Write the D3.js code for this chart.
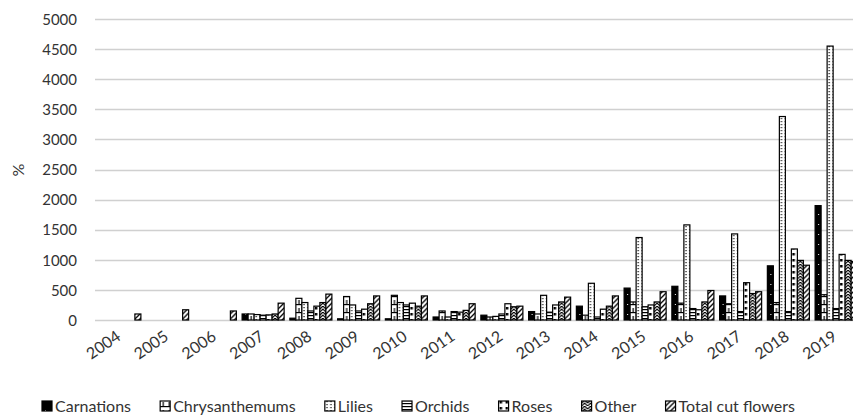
<!DOCTYPE html>
<html>
<head>
<meta charset="utf-8">
<script src="https://cdn.jsdelivr.net/npm/d3@7"></script>
<style>
  html, body { margin: 0; padding: 0; background: #fff; }
  svg { display: block; }
  text { font-family: Lato, "Open Sans", sans-serif; fill: #333; }
</style>
</head>
<body>
<svg id="chart" width="853" height="415"></svg>
<script>
const years = ["2004","2005","2006","2007","2008","2009","2010","2011","2012","2013","2014","2015","2016","2017","2018","2019"];
const seriesNames = ["Carnations","Chrysanthemums","Lilies","Orchids","Roses","Other","Total cut flowers"];
const carnations     = [0, 0, 0, 100, 30, 20, 20, 50, 80, 140, 230, 530, 560, 400, 900, 1900];
const chrysanthemums = [0, 0, 0, 100, 360, 390, 410, 150, 50, 100, 80, 300, 280, 270, 290, 420];
const lilies         = [0, 0, 0, 90, 290, 250, 290, 50, 60, 410, 610, 1370, 1580, 1430, 3380, 4550];
const orchids        = [0, 0, 0, 80, 150, 150, 250, 140, 100, 130, 50, 220, 190, 140, 140, 190];
const roses          = [0, 0, 0, 85, 230, 180, 280, 130, 270, 250, 180, 250, 170, 620, 1180, 1090];
const other          = [0, 0, 0, 100, 290, 270, 230, 160, 220, 300, 230, 300, 300, 440, 990, 990];
const totalCut       = [100, 170, 150, 280, 430, 400, 400, 270, 230, 380, 400, 470, 490, 470, 910, 970];
const yTicks = [0, 500, 1000, 1500, 2000, 2500, 3000, 3500, 4000, 4500, 5000];

const seriesValues = [carnations, chrysanthemums, lilies, orchids, roses, other, totalCut];
const patternIds = ["pCarn","pChrys","pLil","pOrch","pRose","pOther","pTotal"];

const svg = d3.select("#chart");

// patterns
const defs = svg.append("defs");
function pat(id, w, h, draw) {
  const p = defs.append("pattern").attr("id", id).attr("patternUnits", "userSpaceOnUse")
    .attr("width", w).attr("height", h);
  draw(p);
}
pat("pCarn", 8, 10, p => {
  p.append("rect").attr("width", 8).attr("height", 10).attr("fill", "#000");
  p.append("rect").attr("x", 3).attr("y", 4).attr("width", 1).attr("height", 1).attr("fill", "#fff");
});
pat("pChrys", 6, 8, p => {
  p.append("rect").attr("width", 6).attr("height", 8).attr("fill", "#fff");
  p.append("rect").attr("x", 0).attr("y", 0).attr("width", 6).attr("height", 1.2).attr("fill", "#000");
  p.append("rect").attr("x", 2.5).attr("y", 4).attr("width", 1.2).attr("height", 4).attr("fill", "#000");
});
pat("pLil", 4, 3, p => {
  p.append("rect").attr("width", 4).attr("height", 3).attr("fill", "#fff");
  p.append("rect").attr("x", 1.5).attr("y", 1).attr("width", 1.2).attr("height", 1.2).attr("fill", "#000");
});
pat("pOrch", 6, 3, p => {
  p.append("rect").attr("width", 6).attr("height", 3).attr("fill", "#fff");
  p.append("rect").attr("y", 0).attr("width", 6).attr("height", 1.2).attr("fill", "#000");
});
pat("pRose", 6, 6, p => {
  p.append("rect").attr("width", 6).attr("height", 6).attr("fill", "#fff");
  p.append("rect").attr("x", 1).attr("y", 1).attr("width", 2.5).attr("height", 2.5).attr("fill", "#000");
});
pat("pOther", 6, 6, p => {
  p.append("rect").attr("width", 6).attr("height", 6).attr("fill", "#fff");
  p.append("path").attr("d", "M0,3 L3,0 L6,3 M0,6 L3,3 L6,6").attr("stroke", "#000").attr("stroke-width", 1.2).attr("fill", "none");
});
pat("pTotal", 5, 5, p => {
  p.append("rect").attr("width", 5).attr("height", 5).attr("fill", "#fff");
  p.append("path").attr("d", "M0,5 L5,0 M-1,1 L1,-1 M4,6 L6,4").attr("stroke", "#000").attr("stroke-width", 1.3);
});

// scales
const x0 = d3.scaleBand().domain(years).range([96, 860]).paddingInner(0.12).paddingOuter(0.06);
const x1 = d3.scaleBand().domain(seriesNames).range([0, x0.bandwidth()]);
const y = d3.scaleLinear().domain([0, 5000]).range([320, 19]);

// y axis labels
const yAxis = d3.axisLeft(y).tickValues(yTicks).tickFormat(d3.format("d")).tickSize(0).tickPadding(0);
const gy = svg.append("g").attr("transform", "translate(77,0)").call(yAxis);
gy.select(".domain").remove();
gy.selectAll("text").style("font-size", "15px").style("font-family", "Lato, sans-serif").attr("fill", "#333").attr("dy", "0.35em");

// gridlines
svg.append("g").selectAll("line").data(yTicks).join("line")
  .attr("x1", 95).attr("x2", 853)
  .attr("y1", d => Math.round(y(d)) + 0.5).attr("y2", d => Math.round(y(d)) + 0.5)
  .attr("stroke", "#d0d0d0").attr("stroke-width", 1.3);

// y label
svg.append("text").attr("transform", "translate(24,170) rotate(-90)")
  .attr("text-anchor", "middle").style("font-size", "16px").text("%");

// bars
const groups = svg.append("g").selectAll("g").data(years).join("g")
  .attr("transform", d => `translate(${x0(d)},0)`);
groups.selectAll("rect").data((d, i) => seriesNames.map((s, k) => ({ s, k, v: seriesValues[k][i] })).filter(e => e.v > 0))
  .join("rect")
  .attr("x", e => x1(e.s))
  .attr("y", e => y(e.v))
  .attr("width", x1.bandwidth())
  .attr("height", e => y(0) - y(e.v))
  .attr("fill", e => `url(#${patternIds[e.k]})`)
  .attr("stroke", "#000").attr("stroke-width", 1.2);

// x labels
const xAxis = d3.axisBottom(x0).tickSize(0).tickPadding(0);
const gx = svg.append("g").attr("transform", "translate(0,329)").call(xAxis);
gx.select(".domain").remove();
gx.selectAll("text")
  .style("font-size", "16px").style("font-family", "Lato, sans-serif").attr("fill", "#333")
  .attr("text-anchor", "end")
  .attr("dy", "0.75em")
  .attr("transform", "translate(-5,0) rotate(-35)");

// legend
const lg = svg.append("g").attr("transform", "translate(0,406)");
const items = lg.selectAll("g").data(seriesNames).join("g");
items.append("rect").attr("x", 0).attr("y", -5).attr("width", 10).attr("height", 10)
  .attr("fill", (d, k) => `url(#${patternIds[k]})`).attr("stroke", "#000").attr("stroke-width", 1.2);
items.append("text").attr("x", 13).attr("y", 0).attr("dy", "0.35em").style("font-size", "16px").text(d => d);
let widths = [];
items.each(function () { widths.push(this.getBBox().width); });
const startX = 42, endX = 795;
const sumW = d3.sum(widths);
const gap = (endX - startX - sumW) / (seriesNames.length - 1);
let cx = startX;
items.attr("transform", (d, i) => { const t = `translate(${cx},0)`; cx += widths[i] + gap; return t; });
</script>
</body>
</html>
